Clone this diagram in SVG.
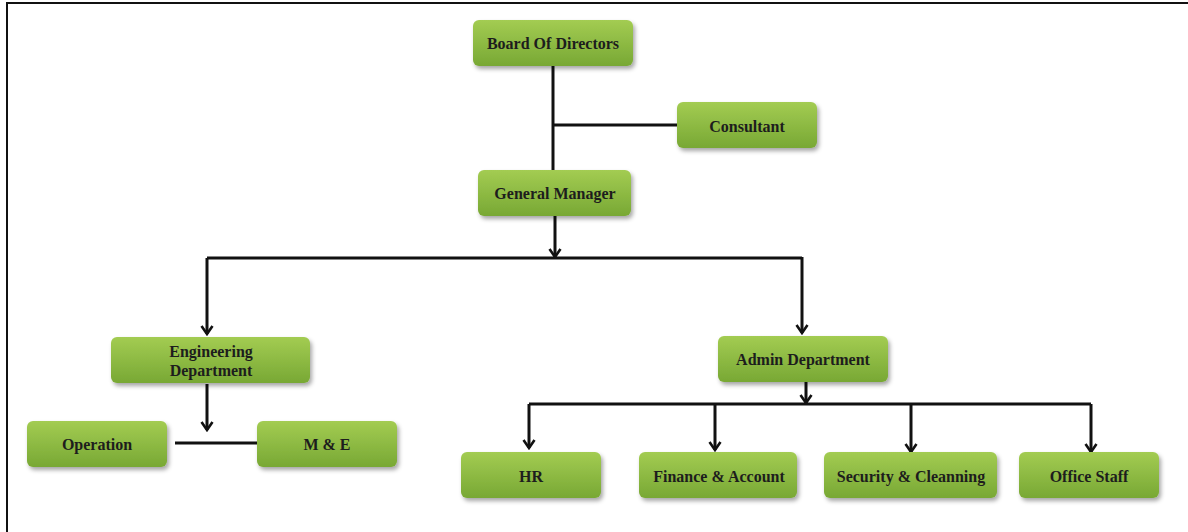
<svg xmlns="http://www.w3.org/2000/svg" width="1188" height="532" viewBox="0 0 1188 532">
<style>
.box{fill:url(#g);filter:url(#sh)}
.t{font-family:"Liberation Serif",serif;font-weight:bold;font-size:16px;fill:#1d1d1d;text-anchor:middle;dominant-baseline:central}
.c{fill:none;stroke:#111;stroke-width:3}
</style>
<defs>
<linearGradient id="g" x1="0" y1="0" x2="0" y2="1">
<stop offset="0" stop-color="#a3cc52"/>
<stop offset="1" stop-color="#78a834"/>
</linearGradient>
<filter id="sh" x="-10%" y="-20%" width="125%" height="160%">
<feDropShadow dx="2" dy="3" stdDeviation="2" flood-color="#000" flood-opacity="0.35"/>
</filter>
<marker id="a" viewBox="0 0 12 14" refX="10" refY="7" markerWidth="12" markerHeight="14" markerUnits="userSpaceOnUse" orient="auto">
<path d="M2,1.5 L10,7 L2,12.5" fill="none" stroke="#111" stroke-width="2.6"/>
</marker>
</defs>
<rect width="1188" height="532" fill="#fff"/>
<path d="M7,532 V3 H1188" fill="none" stroke="#111" stroke-width="2"/>
<g id="connectors">
<path class="c" d="M553,66 V170"/>
<path class="c" d="M554,125 H677"/>
<path class="c" d="M555,216 V257" marker-end="url(#a)"/>
<path class="c" d="M207,258 H802"/>
<path class="c" d="M207,258 V334" marker-end="url(#a)"/>
<path class="c" d="M802,257 V333" marker-end="url(#a)"/>
<path class="c" d="M207,384 V430" marker-end="url(#a)"/>
<path class="c" d="M175,443 H257"/>
<path class="c" d="M806,382 V403" marker-end="url(#a)"/>
<path class="c" d="M529,404 H1091"/>
<path class="c" d="M529,404 V448" marker-end="url(#a)"/>
<path class="c" d="M715,404 V450" marker-end="url(#a)"/>
<path class="c" d="M911,404 V452" marker-end="url(#a)"/>
<path class="c" d="M1091,404 V452" marker-end="url(#a)"/>
</g>
<g id="board"><rect class="box" x="473" y="20" width="160" height="46" rx="6"/><text class="t" x="553" y="43">Board Of Directors</text></g>
<g id="consultant"><rect class="box" x="677" y="102" width="140" height="46" rx="6"/><text class="t" x="747" y="126">Consultant</text></g>
<g id="gm"><rect class="box" x="478" y="170" width="153" height="46" rx="6"/><text class="t" x="555" y="193">General Manager</text></g>
<g id="eng"><rect class="box" x="111" y="337" width="199" height="46" rx="6"/><text class="t" x="211" y="351">Engineering</text><text class="t" x="211" y="370">Department</text></g>
<g id="admin"><rect class="box" x="718" y="336" width="170" height="46" rx="6"/><text class="t" x="803" y="359">Admin Department</text></g>
<g id="operation"><rect class="box" x="27" y="421" width="140" height="46" rx="6"/><text class="t" x="97" y="444">Operation</text></g>
<g id="me"><rect class="box" x="257" y="421" width="140" height="46" rx="6"/><text class="t" x="327" y="444">M &amp; E</text></g>
<g id="hr"><rect class="box" x="461" y="452" width="140" height="46" rx="6"/><text class="t" x="531" y="476">HR</text></g>
<g id="finance"><rect class="box" x="639" y="452" width="158" height="46" rx="6"/><text class="t" x="719" y="476">Finance &amp; Account</text></g>
<g id="security"><rect class="box" x="824" y="452" width="173" height="46" rx="6"/><text class="t" x="911" y="476">Security &amp; Cleanning</text></g>
<g id="office"><rect class="box" x="1019" y="452" width="140" height="46" rx="6"/><text class="t" x="1089" y="476">Office Staff</text></g>
</svg>
